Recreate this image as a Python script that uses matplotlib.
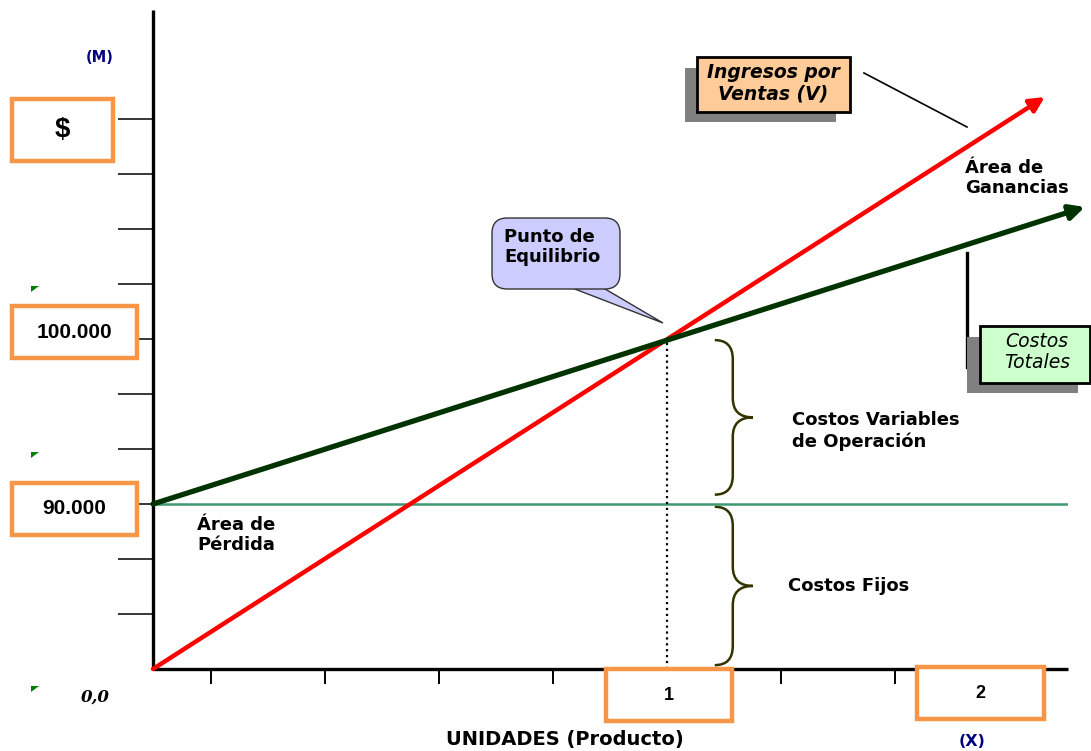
import numpy as np
import matplotlib.pyplot as plt
from matplotlib.patches import Rectangle, Polygon, FancyBboxPatch, PathPatch
from matplotlib.path import Path

# Datos del punto de equilibrio (escala esquemática: 1 marca del eje Y = 1 unidad)
unidades = [0.0, 1.0, 1.735]
ingresos = [0.0, 6.0, 10.4]
unidades_costos = [0.0, 1.0, 1.813]
costos_totales = [3.0, 6.0, 8.4]
costo_fijo = 3.0
equilibrio_x = 1.0
equilibrio_y = 6.0

y_etiquetas = ['100.000', '90.000']
y_niveles = [6.0, 3.0]
x_etiquetas = ['1', '2']

W, H = 1091, 751


def fp(x, y):
    # pixel -> fraccion de figura
    return x / W, 1 - y / H


def caja_naranja(fig, x0, y0, x1, y1, texto, size):
    fig.patches.append(Rectangle(fp(x0, y1), (x1 - x0) / W, (y1 - y0) / H,
                                 transform=fig.transFigure, facecolor='white',
                                 edgecolor='#f79646', lw=3.2, zorder=5))
    cx, cy = fp((x0 + x1) / 2, (y0 + y1) / 2)
    fig.text(cx, cy, texto, ha='center', va='center', fontsize=size,
             fontweight='bold', family='Liberation Sans', zorder=6)


def caja_sombra(fig, caja, sombra, color, texto, centro, size, weight='bold'):
    sx0, sy0, sx1, sy1 = sombra
    fig.patches.append(Rectangle(fp(sx0, sy1), (sx1 - sx0) / W, (sy1 - sy0) / H,
                                 transform=fig.transFigure, facecolor='#808080',
                                 edgecolor='none', zorder=4))
    x0, y0, x1, y1 = caja
    fig.patches.append(Rectangle(fp(x0, y1), (x1 - x0) / W, (y1 - y0) / H,
                                 transform=fig.transFigure, facecolor=color,
                                 edgecolor='black', lw=2, zorder=5))
    fig.text(*fp(*centro), texto, ha='center', va='center', fontsize=size,
             fontweight=weight, style='italic', family='DejaVu Sans',
             linespacing=1.15, zorder=6)


def llave(ax, x0, xv, xt, ytop, ybot, r=0.35):
    ymid = (ytop + ybot) / 2
    verts = [(x0, ytop), (xv, ytop), (xv, ytop - r),
             (xv, ymid + r), (xv, ymid), (xt, ymid),
             (xv, ymid), (xv, ymid - r),
             (xv, ybot + r), (xv, ybot), (x0, ybot)]
    codes = [Path.MOVETO, Path.CURVE3, Path.CURVE3,
             Path.LINETO, Path.CURVE3, Path.CURVE3,
             Path.CURVE3, Path.CURVE3,
             Path.LINETO, Path.CURVE3, Path.CURVE3]
    ax.add_patch(PathPatch(Path(verts, codes), facecolor='none',
                           edgecolor='#333300', lw=1.8, clip_on=False))


fig = plt.figure(figsize=(W / 100, H / 100), dpi=100)
ax = fig.add_axes([153 / W, 1 - 669 / H, 915 / W, 659 / H])
ax.set_xlim(0, 915 / 514)
ax.set_ylim(0, 659 / 55)

for s in ['top', 'right']:
    ax.spines[s].set_visible(False)
for s in ['left', 'bottom']:
    ax.spines[s].set_linewidth(2.4)
    ax.spines[s].set_capstyle('butt')

ax.set_yticks(np.arange(1, 11))
ax.set_xticks([(58 + 114 * k) / 514 for k in range(8)])
ax.tick_params(axis='y', direction='out', length=25, width=1.1, labelleft=False)
ax.tick_params(axis='x', direction='out', length=11, width=1.4, labelbottom=False)

# costos fijos
ax.axhline(costo_fijo, color='#3d9970', lw=1.8, zorder=2)

# linea de equilibrio
ax.plot([equilibrio_x, equilibrio_x], [0, equilibrio_y], color='black',
        ls=':', lw=1.6, zorder=2)

# ingresos por ventas
ax.annotate('', xy=(unidades[-1], ingresos[-1]), xytext=(unidades[0], ingresos[0]),
            arrowprops=dict(arrowstyle='-|>', color='#ff0000', lw=3.2,
                            mutation_scale=22, shrinkA=0, shrinkB=0),
            annotation_clip=False, zorder=3)

# costos totales
ax.annotate('', xy=(unidades_costos[-1], costos_totales[-1]),
            xytext=(unidades_costos[0], costos_totales[0]),
            arrowprops=dict(arrowstyle='-|>', color='#003300', lw=3.8,
                            mutation_scale=22, shrinkA=0, shrinkB=0),
            annotation_clip=False, zorder=3)

# llaves de costos
llave(ax, 1.093, 1.128, 1.167, 5.98, 3.17)
llave(ax, 1.093, 1.128, 1.167, 2.95, 0.07)

txt = dict(fontsize=13, fontweight='bold', family='DejaVu Sans', linespacing=1.2)
fig.text(*fp(792, 431), 'Costos Variables\nde Operación', ha='left', va='center', **txt)
fig.text(*fp(788, 586), 'Costos Fijos', ha='left', va='center', **txt)
fig.text(*fp(197, 535), 'Área de\nPérdida', ha='left', va='center', **txt)
fig.text(*fp(965, 178), 'Área de\nGanancias', ha='left', va='center', **txt)

# globo del punto de equilibrio
fig.patches.append(Polygon([fp(567, 286), fp(600, 286), fp(663, 323)], closed=True,
                           transform=fig.transFigure, facecolor='#ccccff',
                           edgecolor='#333333', lw=1, zorder=4))
bx0, by0, bx1, by1 = 492, 218, 620, 289
fig.patches.append(FancyBboxPatch(fp(bx0, by1), (bx1 - bx0) / W, (by1 - by0) / H,
                                  boxstyle='round,pad=0,rounding_size=0.014',
                                  transform=fig.transFigure, facecolor='#ccccff',
                                  edgecolor='#333333', lw=1, zorder=5,
                                  mutation_aspect=W / H))
fig.text(*fp(504, 247), 'Punto de\nEquilibrio', ha='left', va='center', zorder=6, **txt)

# rotulos de las rectas
caja_sombra(fig, (697, 57, 850, 112), (685, 68, 836, 122), '#ffcc99',
            'Ingresos por\nVentas (V)', (773, 83), 13.5)
fig.lines.append(plt.Line2D([864 / W, 967 / W], [1 - 73 / H, 1 - 127 / H],
                            transform=fig.transFigure, color='black', lw=1.2))
fig.lines.append(plt.Line2D([967 / W, 967 / W], [1 - 253 / H, 1 - 367 / H],
                            transform=fig.transFigure, color='black', lw=2.4))
caja_sombra(fig, (980, 326, 1090, 383), (967, 337, 1078, 393), '#ccffcc',
            'Costos\nTotales', (1037, 352), 13.5, weight='medium')

# etiquetas de los ejes
caja_naranja(fig, 12, 99, 113, 161, '$', 20)
caja_naranja(fig, 12, 306, 137, 358, y_etiquetas[0], 15)
caja_naranja(fig, 12, 483, 137, 535, y_etiquetas[1], 15)
caja_naranja(fig, 606, 669, 732, 721, x_etiquetas[0], 13)
caja_naranja(fig, 917, 667, 1044, 719, x_etiquetas[1], 13)

fig.text(*fp(565, 740), 'UNIDADES (Producto)', ha='center', va='center',
         fontsize=14, fontweight='bold', family='DejaVu Sans')
fig.text(*fp(972, 741), '(X)', ha='center', va='center', fontsize=11.5,
         fontweight='bold', color='#000080', family='DejaVu Sans')
fig.text(*fp(100, 57), '(M)', ha='center', va='center', fontsize=10.5,
         fontweight='bold', color='#000080', family='DejaVu Sans')
fig.text(*fp(95, 697), '0,0', ha='center', va='center', fontsize=12,
         fontweight='bold', style='italic', family='DejaVu Serif')

# marcas verdes del margen
for yy in [286, 452, 686]:
    fig.patches.append(Polygon([fp(31, yy), fp(39, yy), fp(31, yy + 6)], closed=True,
                               transform=fig.transFigure, facecolor='#008000',
                               edgecolor='none'))

fig.savefig('out.png', dpi=100)
